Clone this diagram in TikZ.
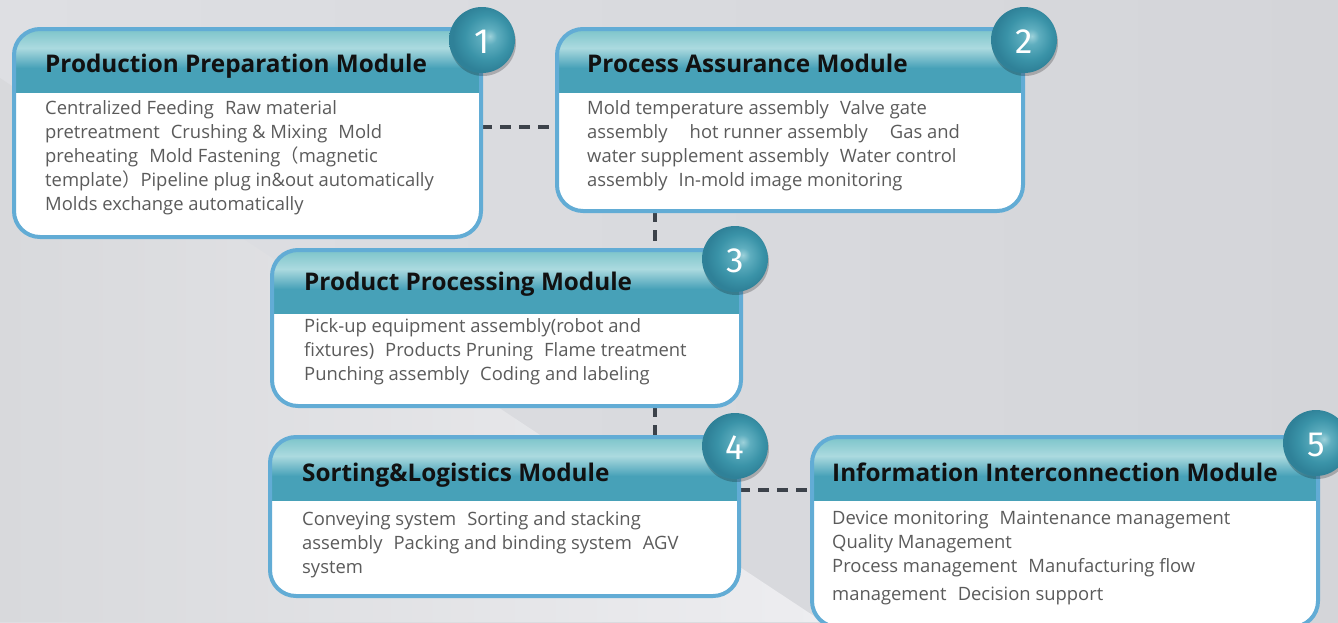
\documentclass[tikz,border=0pt]{standalone}
\usepackage{fontspec}
\setmainfont{Open Sans}
\newfontfamily\cjk{Noto Sans CJK SC}
\newfontfamily\digitfont{Fira Sans}
\usetikzlibrary{shadows}
\definecolor{bgleft}{HTML}{DEDFE3}
\definecolor{bgright}{HTML}{D4D5D9}
\definecolor{lightL}{HTML}{D8D9DC}
\definecolor{lightR}{HTML}{EDEDF0}
\definecolor{bordercol}{HTML}{62ACD5}
\definecolor{hdrdark}{HTML}{47A1B8}
\definecolor{hdrlight}{HTML}{ABDADF}
\definecolor{hdrtop}{HTML}{7CC4CA}
\definecolor{titlecol}{HTML}{111111}
\definecolor{bodycol}{HTML}{5B5B5B}
\definecolor{dashcol}{HTML}{3C424A}
\definecolor{balllight}{HTML}{9DD1DA}
\definecolor{ballmid}{HTML}{5FAEBF}
\definecolor{balldark}{HTML}{3A93A8}
\definecolor{balledge}{HTML}{2F8198}
% TikZ maps the path to the band 25bp..75bp of a 100bp shading
\pgfdeclareverticalshading{hdrshade}{100bp}{color(0bp)=(hdrdark); color(25bp)=(hdrdark); color(44bp)=(hdrdark); color(60bp)=(hdrlight); color(75bp)=(hdrtop); color(100bp)=(hdrtop)}
\pgfdeclareradialshading{ballshade}{\pgfpoint{6bp}{3bp}}{color(0bp)=(balllight); color(6bp)=(ballmid); color(17bp)=(balldark); color(25bp)=(balledge); color(50bp)=(balledge)}
\newcommand{\gp}{\hspace{0.6em}}
\newcommand{\boxhead}[1]{%
  \begin{scope}
    \clip[rounded corners=26pt] (#1.north west) rectangle (#1.south east);
    \shade[shading=hdrshade] (#1.north west) rectangle ([yshift=-63pt]#1.north east);
  \end{scope}
  \draw[boxline] (#1.north west) rectangle (#1.south east);}
\tikzset{
  modbox/.style={fill=white, rounded corners=26pt, anchor=north west, inner sep=0pt, outer sep=0pt},
  boxline/.style={draw=bordercol, line width=4pt, rounded corners=26pt},
  titletxt/.style={anchor=base west, inner sep=0pt, text=titlecol, font=\bfseries\fontsize{24.3}{28}\selectfont},
  bodytxt/.style={anchor=north west, inner sep=0pt, text=bodycol, align=left, font=\fontsize{18.4}{24}\selectfont},
  numball/.style={circle, minimum size=66pt, inner sep=0pt, shading=ballshade,
    drop shadow={shadow xshift=1pt, shadow yshift=-3pt, opacity=.22, fill=black}},
  numtxt/.style={inner sep=0pt, text=white, font=\digitfont\fontsize{35}{35}\selectfont},
  dashline/.style={draw=dashcol, line width=4pt, dash pattern=on 11pt off 8pt}
}
\begin{document}
\begin{tikzpicture}[x=1pt,y=-1pt]
\useasboundingbox (0,0) rectangle (1338,622);
\begin{scope}
\clip (0,0) rectangle (1338,622);
\shade[left color=bgleft, right color=bgright] (0,0) rectangle (1338,622);
\shade[left color=lightL, right color=lightR] (0,78) -- (823,622) -- (0,622) -- cycle;

% boxes
\node[modbox, minimum width=467pt, minimum height=208pt] (b1) at (14,29) {};
\node[modbox, minimum width=466pt, minimum height=182pt] (b2) at (557,29) {};
\node[modbox, minimum width=469pt, minimum height=156pt] (b3) at (272,250) {};
\node[modbox, minimum width=469pt, minimum height=159pt] (b4) at (270,437) {};
\node[modbox, minimum width=506pt, minimum height=190pt] (b5) at (812,437) {};

% connectors
\coordinate (r12) at (0,127);
\coordinate (c23) at (655,0);
\coordinate (r45) at (0,490);
\draw[dashline] (b1.east |- r12) -- (b2.west |- r12);
\draw[dashline] (b2.south -| c23) -- (b3.north -| c23);
\draw[dashline] (b3.south -| c23) -- (b4.north -| c23);
\draw[dashline] (b4.east |- r45) -- (b5.west |- r45);

% headers and borders
\boxhead{b1}
\boxhead{b2}
\boxhead{b3}
\boxhead{b4}
\boxhead{b5}

% titles
\node[titletxt] (h1) at (45,72) {Production Preparation Module};
\node[titletxt] (h2) at (587,72) {Process Assurance Module};
\node[titletxt] (h3) at (304,290) {Product Processing Module};
\node[titletxt] (h4) at (302,481) {Sorting\&Logistics Module};
\node[titletxt] (h5) at (832,481) {Information Interconnection Module};

% bodies
\node[bodytxt] (t1) at (45,100) {Centralized Feeding\gp Raw material\\
pretreatment\gp Crushing \& Mixing\gp Mold\\
preheating\gp Mold Fastening{\cjk （}magnetic\\
template{\cjk ）}Pipeline plug in\&out automatically\\
Molds exchange automatically};
\node[bodytxt] (t2) at (587,100) {Mold temperature assembly\gp Valve gate\\
assembly\gp\gp hot runner assembly\gp\gp Gas and\\
water supplement assembly\gp Water control\\
assembly\gp In-mold image monitoring};
\node[bodytxt] (t3) at (304,318) {Pick-up equipment assembly(robot and\\
fixtures)\gp Products Pruning\gp Flame treatment\\
Punching assembly\gp Coding and labeling};
\node[bodytxt] (t4) at (302,511) {Conveying system\gp Sorting and stacking\\
assembly\gp Packing and binding system\gp AGV\\
system};
\node[bodytxt] (t5) at (832,511) {Device monitoring\gp Maintenance management\\
Quality Management\\
Process management\gp Manufacturing flow\\[4pt]
management\gp Decision support};

% number balls
\node[numball] (n1) at (482,40) {};
\node[numball] (n2) at (1024,40) {};
\node[numball] (n3) at (735,259) {};
\node[numball] (n4) at (735,446) {};
\node[numball] (n5) at (1316,443) {};
\node[numtxt] (d1) at ([yshift=-2pt]n1.center) {1};
\node[numtxt] (d2) at ([yshift=-2pt]n2.center) {2};
\node[numtxt] (d3) at ([yshift=-2pt]n3.center) {3};
\node[numtxt] (d4) at ([yshift=-2pt]n4.center) {4};
\node[numtxt] (d5) at ([yshift=-2pt]n5.center) {5};
\end{scope}
\end{tikzpicture}
\end{document}
